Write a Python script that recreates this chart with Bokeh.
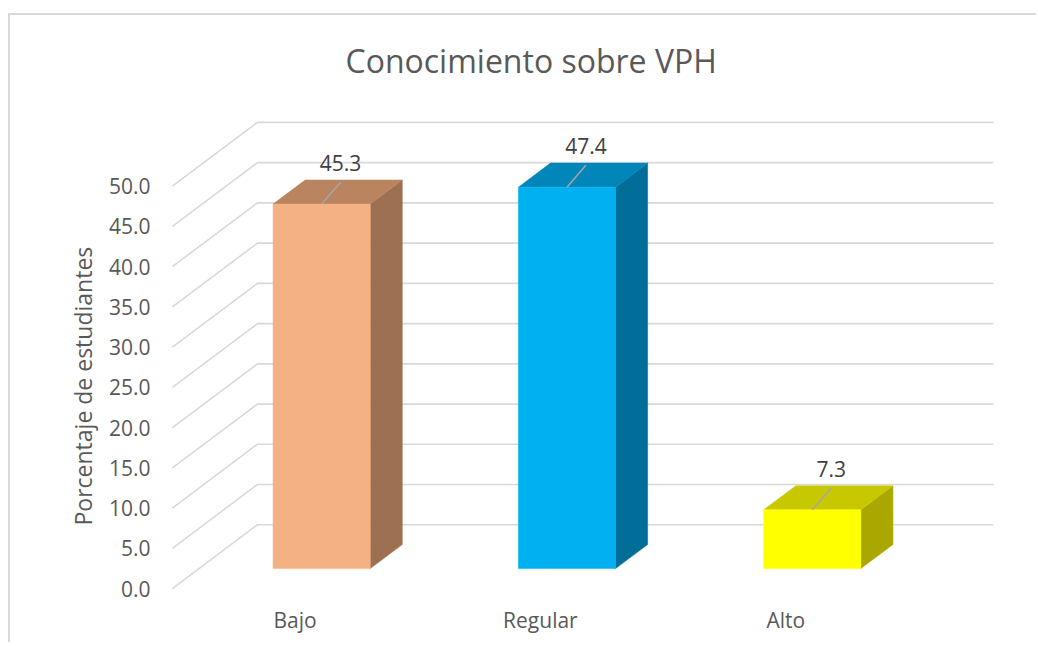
from bokeh.plotting import figure
from bokeh.models import Range1d, FixedTicker, NumeralTickFormatter, Title
from bokeh.embed import file_html
from bokeh.resources import INLINE
from bokeh.core.properties import value

# ---- data ----
categories = ["Bajo", "Regular", "Alto"]
percentages = [45.3, 47.4, 7.3]
y_ticks = [0, 5, 10, 15, 20, 25, 30, 35, 40, 45, 50]
title_text = "Conocimiento sobre VPH"
y_title = "Porcentaje de estudiantes"

# ---- styles ----
front_colors = ["#F4B183", "#00B0F0", "#FFFF00"]
top_colors = ["#B9845F", "#0086B8", "#C8C800"]
side_colors = ["#9C7050", "#006E98", "#A8A800"]
FONT = "Open Sans"

# ---- pseudo-3D projection ----
PX_X = 245.33          # pixels per category on the front plane
PX_Y = 8.08            # pixels per percentage unit
DEPTH_X = 85 / PX_X    # horizontal shift of the back wall (data units)
DEPTH_Y = 64 / PX_Y    # vertical shift of the back wall (data units)
D1, D2 = 0.3125, 0.69  # bar depth (front, back) as fraction of floor depth
HALF_W = 0.198         # half bar width in category units


def proj(c, v, d):
    return c + d * DEPTH_X, v + d * DEPTH_Y


W, H = 1028, 629
X0 = -0.02
FRAME_W = 832
X1 = X0 + FRAME_W / PX_X
Y0 = -0.99
FRAME_H = 496
Y1 = Y0 + FRAME_H / PX_Y
LEFT, TOP = 157, 85

p = figure(width=W, height=H, x_range=Range1d(X0, X1), y_range=Range1d(Y0, Y1),
           output_backend="svg", toolbar_location=None,
           min_border_left=LEFT, min_border_right=W - LEFT - FRAME_W,
           min_border_top=TOP, min_border_bottom=H - TOP - FRAME_H)
p.styles = {"border-top": "2px solid #D9D9D9", "border-left": "2px solid #D9D9D9",
            "margin-top": "13px", "margin-left": "8px", "overflow": "hidden"}
p.background_fill_color = "white"
p.border_fill_color = "white"
p.outline_line_color = None
p.xgrid.visible = False
p.ygrid.visible = False

p.title.text = title_text
p.title.text_font = FONT
p.title.text_font_size = "32px"
p.title.text_font_style = "normal"
p.title.text_color = "#595959"
p.title.align = "left"
p.title.offset = 178
p.title.standoff = 42

# back-wall gridlines
gx, gy = [], []
for v in y_ticks:
    pts = [proj(0, v, 0), proj(0, v, 1), proj(len(categories), v, 1)]
    gx.append([q[0] for q in pts])
    gy.append([q[1] for q in pts])
p.multi_line(gx, gy, line_color="#D9D9D9", line_width=1.6)

# bars
for i, val in enumerate(percentages):
    cc = i + 0.5
    l, r = cc - HALF_W, cc + HALF_W
    side = [proj(r, 0, D1), proj(r, val, D1), proj(r, val, D2), proj(r, 0, D2)]
    top = [proj(l, val, D1), proj(r, val, D1), proj(r, val, D2), proj(l, val, D2)]
    front = [proj(l, 0, D1), proj(r, 0, D1), proj(r, val, D1), proj(l, val, D1)]
    for face, col in ((side, side_colors[i]), (top, top_colors[i]), (front, front_colors[i])):
        p.patch([q[0] for q in face], [q[1] for q in face], fill_color=col,
                line_color=col, line_width=0.5)

# data labels with leader lines
lx, ly, lt, sx0, sy0, sx1, sy1 = [], [], [], [], [], [], []
for i, val in enumerate(percentages):
    cc = i + 0.5
    ax, ay = proj(cc, val, 0.5)
    ax += 3 / PX_X
    ay += 29 / PX_Y
    lx.append(ax)
    ly.append(ay)
    lt.append(f"{val:.1f}")
    s = proj(cc, val, D1)
    sx0.append(s[0])
    sy0.append(s[1])
    sx1.append(ax)
    sy1.append(ay - 19 / PX_Y)
p.segment(sx0, sy0, sx1, sy1, line_color="#A6A6A6", line_width=1.5)
p.text(lx, ly, text=lt, text_align="center", text_baseline="middle",
       text_font=value(FONT), text_font_size="21px", text_color="#404040")

# axes
p.yaxis.ticker = FixedTicker(ticks=y_ticks)
p.yaxis.formatter = NumeralTickFormatter(format="0.0")
p.yaxis.major_label_standoff = 17

# y-axis title (vertical), centred on the 0..50 axis extent
p.add_layout(Title(text=y_title, align="left", offset=71, standoff=14,
                   text_font=FONT, text_font_size="23px", text_font_style="normal",
                   text_color="#595959"), "left")

p.xaxis.ticker = FixedTicker(ticks=[i + 0.5 for i in range(len(categories))])
p.xaxis.major_label_overrides = {i + 0.5: c for i, c in enumerate(categories)}
p.xaxis.major_label_standoff = 9

for ax in (p.xaxis[0], p.yaxis[0]):
    ax.axis_line_color = None
    ax.major_tick_line_color = None
    ax.minor_tick_line_color = None
    ax.major_tick_out = 0
    ax.major_tick_in = 0
    ax.major_label_text_font = FONT
    ax.major_label_text_font_size = "21px"
    ax.major_label_text_color = "#595959"

open("out.html", "w").write(file_html(p, INLINE))
